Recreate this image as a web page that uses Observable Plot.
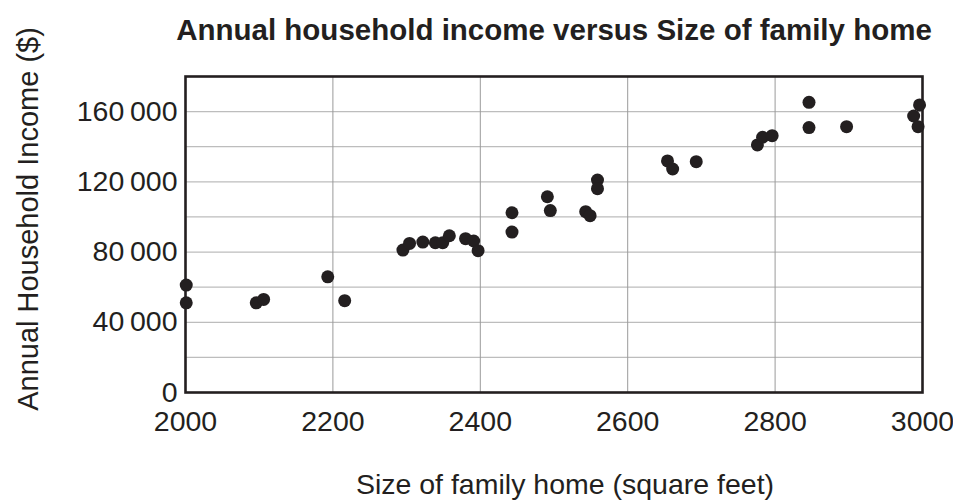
<!DOCTYPE html>
<html>
<head>
<meta charset="utf-8">
<script src="https://cdn.jsdelivr.net/npm/d3@7"></script>
<script src="https://cdn.jsdelivr.net/npm/@observablehq/plot@0.6"></script>
<style>
  html, body { margin: 0; padding: 0; background: #fff; }
</style>
</head>
<body>
<div id="chart"></div>
<script>
const title = "Annual household income versus Size of family home";
const xLabel = "Size of family home (square feet)";
const yLabel = "Annual Household Income ($)";

const homeSize = [2001, 2001, 2096, 2106, 2193, 2216, 2295, 2304, 2322, 2339, 2349, 2358, 2380, 2391, 2397, 2443, 2443, 2491, 2495, 2543, 2549, 2559, 2559, 2654, 2661, 2693, 2776, 2783, 2796, 2846, 2846, 2897, 2988, 2996, 2994];
const income   = [61200, 51100, 51100, 53000, 65900, 52300, 81100, 84900, 85700, 85300, 85300, 89300, 87600, 86300, 80800, 102400, 91400, 111500, 103600, 103000, 100700, 121000, 116100, 131900, 127300, 131500, 141000, 145400, 146300, 165300, 150900, 151400, 157500, 163800, 151400];

const xTicks = [2000, 2200, 2400, 2600, 2800, 3000];
const yTicks = [0, 40000, 80000, 120000, 160000];
const yGrid = [20000, 40000, 60000, 80000, 100000, 120000, 140000, 160000];

const data = homeSize.map((s, i) => ({size: s, income: income[i]}));
const fmt = d3.formatLocale({decimal: ".", thousands: "\u2009", grouping: [3], currency: ["$", ""]}).format(",d");
const ink = "#231f20";

const chart = Plot.plot({
  width: 953,
  height: 500,
  marginLeft: 185,
  marginRight: 31,
  marginTop: 76,
  marginBottom: 108,
  style: {fontFamily: "'Liberation Sans', Arial, sans-serif", fontSize: "28.5px", color: ink, background: "#fff"},
  x: {domain: [2000, 3000]},
  y: {domain: [0, 180000]},
  marks: [
    Plot.gridY(yGrid, {stroke: "#bdbdbd", strokeOpacity: 1, strokeWidth: 1.2}),
    Plot.gridX(xTicks, {stroke: "#9a9a9a", strokeOpacity: 1, strokeWidth: 1}),
    Plot.axisX(xTicks, {tickSize: 0, tickPadding: 18, label: null, tickFormat: d => String(d), fill: ink}),
    Plot.axisY(yTicks, {tickSize: 0, tickPadding: 8, label: null, tickFormat: fmt, fill: ink}),
    Plot.frame({stroke: ink, strokeWidth: 2.6}),
    Plot.dot(data, {x: "size", y: "income", r: 6.5, fill: ink, stroke: "none"}),
    Plot.text([title], {frameAnchor: "top", dy: -46, fontSize: 29.5, fontWeight: "bold", fill: ink, lineAnchor: "middle"}),
    Plot.text([xLabel], {frameAnchor: "bottom", dy: 92, dx: 11, fontSize: 28.5, fill: ink, lineAnchor: "middle", textAnchor: "middle"}),
    Plot.text([yLabel], {frameAnchor: "left", dx: -157, dy: -15.5, rotate: -90, fontSize: 29, fill: ink, lineAnchor: "middle", textAnchor: "middle"})
  ]
});
document.getElementById("chart").appendChild(chart);
</script>
</body>
</html>
